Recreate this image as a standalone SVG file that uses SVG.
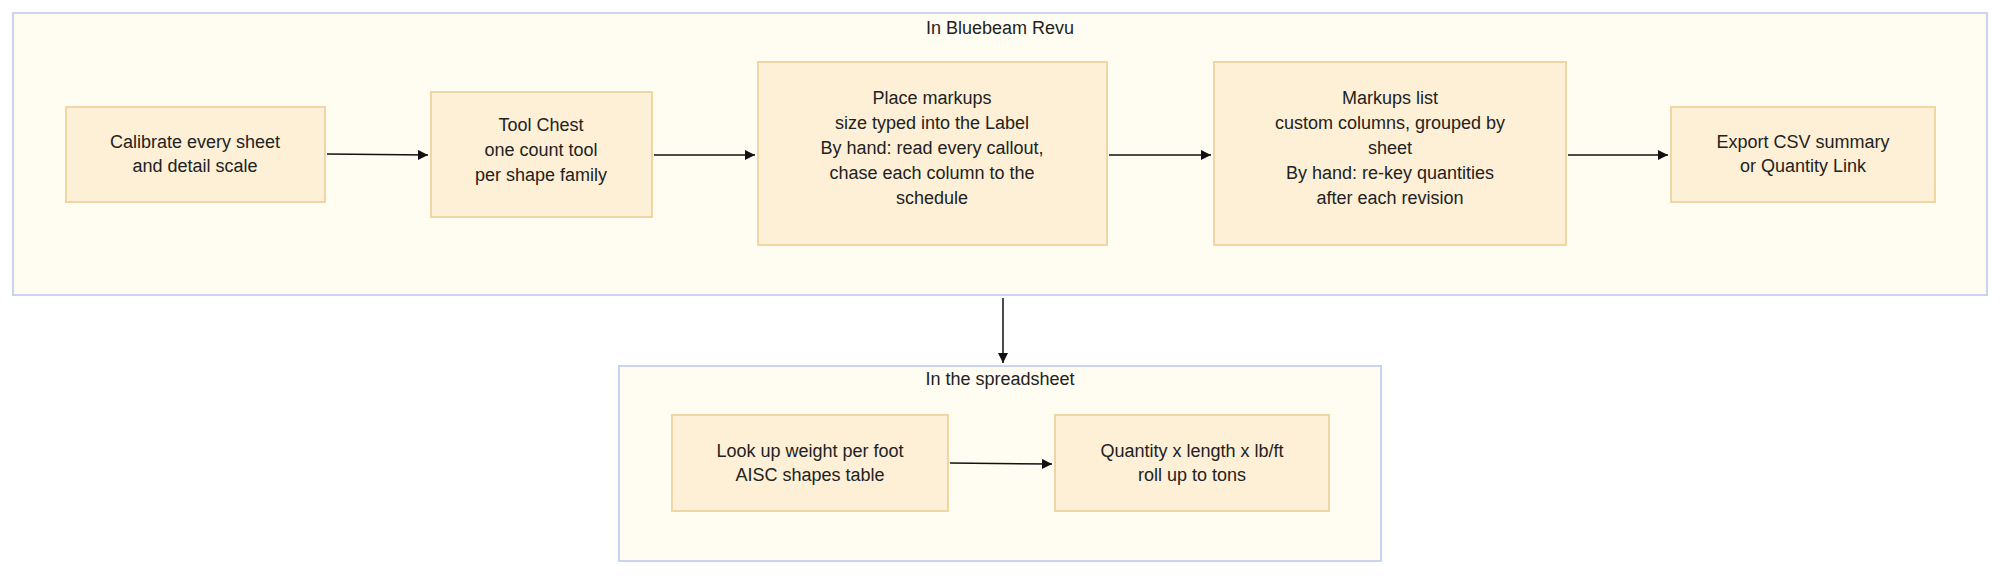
<svg xmlns="http://www.w3.org/2000/svg" width="2000" height="576" viewBox="0 0 2000 576">
<defs>
<style>
.c{fill:#fffdf2;stroke:#c9d3f2;stroke-width:2}
.n{fill:#fdf0d6;stroke:#efd6a4;stroke-width:2}
text{font-family:"Liberation Sans",Arial,sans-serif;font-size:18px;fill:#222;text-anchor:middle}
.e{stroke:#111;stroke-width:1.5;fill:none;marker-end:url(#a)}
</style>
<marker id="a" viewBox="0 0 10 10" refX="10" refY="5" markerWidth="10" markerHeight="10" markerUnits="userSpaceOnUse" orient="auto"><path d="M0,0L10,5L0,10z" fill="#111"/></marker>
</defs>
<rect width="2000" height="576" fill="#fff"/>
<g id="bluebeam"><rect class="c" x="13" y="13" width="1974" height="282"/><text x="1000" y="34">In Bluebeam Revu</text></g>
<g id="spreadsheet"><rect class="c" x="619" y="366" width="762" height="195"/><text x="1000" y="385">In the spreadsheet</text></g>
<g id="n1"><rect class="n" x="66" y="107" width="259" height="95"/><text x="195" y="148">Calibrate every sheet</text><text x="195" y="172">and detail scale</text></g>
<g id="n2"><rect class="n" x="431" y="92" width="221" height="125"/><text x="541" y="131">Tool Chest</text><text x="541" y="156">one count tool</text><text x="541" y="181">per shape family</text></g>
<g id="n3"><rect class="n" x="758" y="62" width="349" height="183"/><text x="932" y="104">Place markups</text><text x="932" y="129">size typed into the Label</text><text x="932" y="154">By hand: read every callout,</text><text x="932" y="179">chase each column to the</text><text x="932" y="204">schedule</text></g>
<g id="n4"><rect class="n" x="1214" y="62" width="352" height="183"/><text x="1390" y="104">Markups list</text><text x="1390" y="129">custom columns, grouped by</text><text x="1390" y="154">sheet</text><text x="1390" y="179">By hand: re-key quantities</text><text x="1390" y="204">after each revision</text></g>
<g id="n5"><rect class="n" x="1671" y="107" width="264" height="95"/><text x="1803" y="148">Export CSV summary</text><text x="1803" y="172">or Quantity Link</text></g>
<g id="n6"><rect class="n" x="672" y="415" width="276" height="96"/><text x="810" y="457">Look up weight per foot</text><text x="810" y="481">AISC shapes table</text></g>
<g id="n7"><rect class="n" x="1055" y="415" width="274" height="96"/><text x="1192" y="457">Quantity x length x lb/ft</text><text x="1192" y="481">roll up to tons</text></g>
<g id="edges">
<path class="e" d="M327,154L428,155"/>
<path class="e" d="M654,155L755,155"/>
<path class="e" d="M1109,155L1211,155"/>
<path class="e" d="M1568,155L1668,155"/>
<path class="e" d="M1003,298L1003,363"/>
<path class="e" d="M950,463L1052,464"/>
</g>
</svg>
